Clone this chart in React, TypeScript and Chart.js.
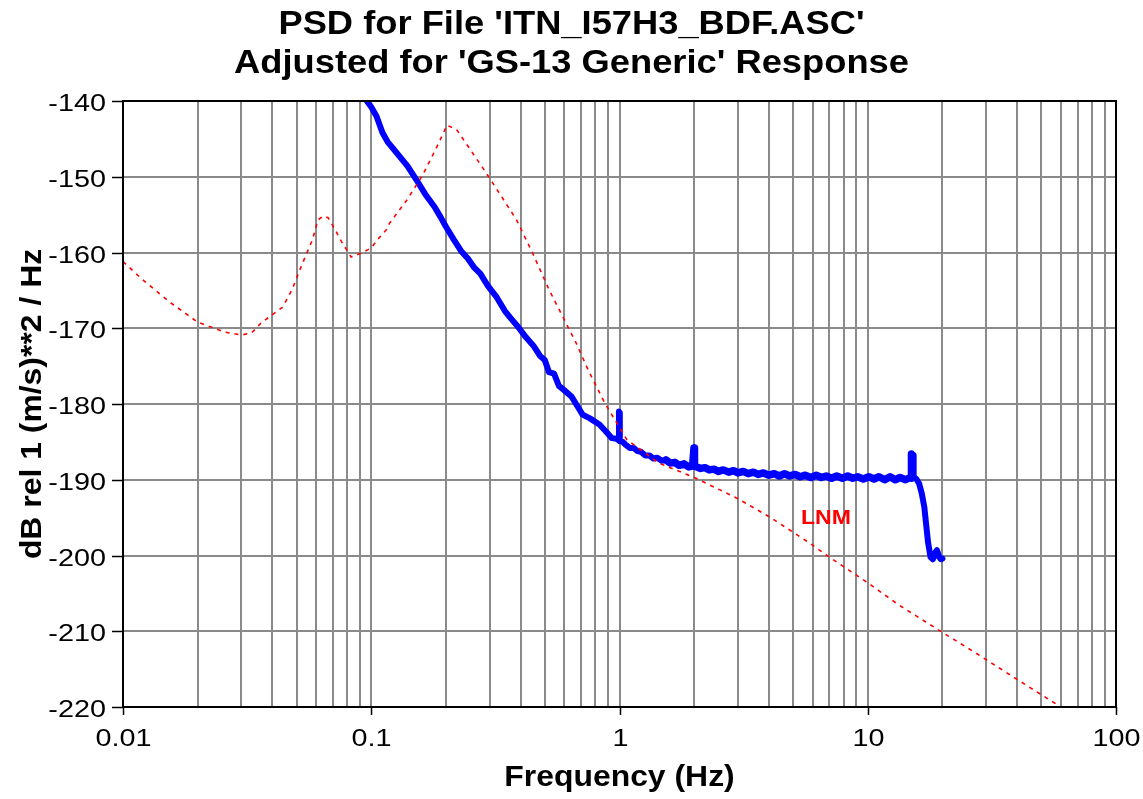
import React, { useEffect, useRef } from "react";
import { Chart, registerables } from "chart.js";

Chart.register(...registerables);

const titleLines = ["PSD for File 'ITN_I57H3_BDF.ASC'", "Adjusted for 'GS-13 Generic' Response"];
const xAxisTitle = "Frequency (Hz)";
const yAxisTitle = "dB rel 1 (m/s)**2 / Hz";
const lnmLabel = "LNM";

const xDecadeValues = [0.01, 0.1, 1, 10, 100];
const xDecadeLabels = ["0.01", "0.1", "1", "10", "100"];
const xGridValues = [
  0.01, 0.02, 0.03, 0.04, 0.05, 0.06, 0.07, 0.08, 0.09,
  0.1, 0.2, 0.3, 0.4, 0.5, 0.6, 0.7, 0.8, 0.9,
  1, 2, 3, 4, 5, 6, 7, 8, 9,
  10, 20, 30, 40, 50, 60, 70, 80, 90, 100,
];
const yTickValues = [-140, -150, -160, -170, -180, -190, -200, -210, -220];
const yTickLabels = ["-140", "-150", "-160", "-170", "-180", "-190", "-200", "-210", "-220"];

// Low noise model (red dotted)
const lnmFreq = [
  0.01, 0.012, 0.0155, 0.02, 0.0257, 0.03, 0.033, 0.036, 0.04, 0.044, 0.048, 0.05, 0.052, 0.054,
  0.058, 0.061, 0.064, 0.067, 0.071, 0.076, 0.083, 0.091, 0.1, 0.106, 0.115, 0.1187, 0.139, 0.161,
  0.1835, 0.202, 0.221, 0.281, 0.3, 0.385, 0.447, 0.52, 0.6, 0.67, 0.75, 0.87, 1.07, 1.44, 2.0,
  2.96, 4.02, 5.8, 7.0, 10.0, 13.3, 19.0, 27.3, 40.6, 60,
];
const lnmDb = [
  -161.2, -163.6, -166.6, -169.2, -170.5, -170.9, -170.6, -169.3, -168.2, -167.2, -164.9, -163.4, -162.0, -160.7,
  -158.3, -155.7, -155.2, -155.4, -156.8, -158.6, -160.6, -160.1, -159.4, -158.3, -157.0, -156.1, -153.1, -149.8,
  -146.1, -143.2, -143.8, -148.8, -150.2, -155.7, -160.1, -164.9, -168.9, -172.0, -175.6, -179.8, -184.7, -187.8, -189.7,
  -192.4, -194.9, -198.3, -200.2, -203.6, -206.5, -209.7, -212.9, -216.5, -220.0,
];

// Measured PSD (blue)
const psdFreq = [
  0.096, 0.1, 0.105, 0.111, 0.117, 0.122, 0.13, 0.14, 0.152, 0.165, 0.18, 0.19, 0.2, 0.215, 0.23,
  0.245, 0.26, 0.275, 0.295, 0.32, 0.345, 0.365, 0.39, 0.42, 0.45, 0.48, 0.5, 0.52, 0.545, 0.57,
  0.6, 0.64, 0.68, 0.71, 0.76, 0.83, 0.88, 0.93, 0.975, 0.993, 0.995, 1.0, 1.003, 1.03, 1.06, 1.1, 1.14,
  1.18, 1.22, 1.27, 1.32, 1.37, 1.42, 1.48, 1.54, 1.6, 1.67, 1.74, 1.82, 1.9, 1.97, 1.995, 2.0, 2.005,
  2.12, 2.21, 2.3, 2.4, 2.5, 2.62, 2.75, 2.88, 3.0, 3.15, 3.3, 3.46, 3.62, 3.8, 4.0, 4.2,
  4.4, 4.62, 4.85, 5.1, 5.35, 5.6, 5.9, 6.2, 6.5, 6.8, 7.15, 7.5, 7.9, 8.3, 8.7, 9.1, 9.6, 10.1,
  10.6, 11.1, 11.7, 12.3, 12.9, 13.5, 14.2, 14.8, 14.95, 15.0, 15.1, 15.2, 15.7, 16.1, 16.5, 16.9,
  17.2, 17.5, 17.9, 18.3, 18.7, 19.0, 19.4, 19.7, 20.0,
];
const psdDb = [
  -140.0, -140.8, -142.0, -144.2, -145.5, -146.2, -147.3, -148.6, -150.4, -152.3, -154.0, -155.3, -156.6, -158.3, -159.8,
  -160.8, -162.0, -162.8, -164.4, -165.9, -167.7, -168.7, -169.8, -171.2, -172.3, -173.7, -174.2, -175.8, -176.0, -177.6,
  -178.2, -179.0, -180.4, -181.4, -181.9, -182.7, -183.6, -184.5, -184.6, -184.8, -181.0, -181.2, -184.9, -185.0, -185.4, -185.8, -185.8,
  -186.2, -186.3, -186.8, -186.8, -187.2, -187.1, -187.5, -187.4, -187.8, -187.7, -188.1, -187.9, -188.3, -188.2, -185.8, -185.8, -188.2,
  -188.5, -188.4, -188.7, -188.6, -188.9, -188.7, -189.0, -188.8, -189.1, -188.9, -189.2, -189.0, -189.3, -189.1, -189.4, -189.2,
  -189.5, -189.2, -189.5, -189.3, -189.6, -189.4, -189.7, -189.4, -189.7, -189.5, -189.8, -189.5, -189.8, -189.5, -189.8, -189.6, -189.9, -189.6,
  -189.9, -189.6, -190.0, -189.6, -190.0, -189.7, -190.0, -189.7, -189.8, -186.6, -186.8, -189.6, -189.9, -190.5, -191.8, -193.6,
  -196.0, -198.3, -200.2, -200.5, -199.6, -199.3, -200.2, -200.5, -200.4,
];

const FONT = "'Liberation Sans', Arial, Helvetica, sans-serif";

function drawStretched(
  ctx: CanvasRenderingContext2D,
  text: string,
  x: number,
  y: number,
  align: CanvasTextAlign,
  sx: number,
  rotate = 0
) {
  ctx.save();
  ctx.translate(x, y);
  if (rotate) ctx.rotate(rotate);
  ctx.scale(sx, 1);
  ctx.textAlign = align;
  ctx.textBaseline = "alphabetic";
  ctx.fillText(text, 0, 0);
  ctx.restore();
}

const decorPlugin = {
  id: "decor",
  afterDraw(chart: any) {
    const ctx: CanvasRenderingContext2D = chart.ctx;
    const { left, right, top, bottom } = chart.chartArea;
    const xs = chart.scales.x;
    const ys = chart.scales.y;
    ctx.save();
    // frame
    ctx.strokeStyle = "#000";
    ctx.lineWidth = 2;
    ctx.strokeRect(left, top, right - left, bottom - top);

    // y ticks + labels
    ctx.fillStyle = "#000";
    ctx.font = `24px ${FONT}`;
    yTickValues.forEach((v, i) => {
      const y = Math.round(ys.getPixelForValue(v)) + 0.5;
      ctx.beginPath();
      ctx.moveTo(left - 11, y);
      ctx.lineTo(left, y);
      ctx.lineWidth = 1.5;
      ctx.stroke();
      drawStretched(ctx, yTickLabels[i], left - 17, y + 9, "right", 1.2);
    });

    // x ticks + labels
    xDecadeValues.forEach((v, i) => {
      const x = Math.round(xs.getPixelForValue(v)) + 0.5;
      ctx.beginPath();
      ctx.moveTo(x, bottom);
      ctx.lineTo(x, bottom + 8);
      ctx.lineWidth = 1.5;
      ctx.stroke();
      drawStretched(ctx, xDecadeLabels[i], x, bottom + 39, "center", 1.2);
    });

    // titles
    ctx.font = `bold 33px ${FONT}`;
    const cx = chart.width / 2;
    drawStretched(ctx, titleLines[0], cx, 34, "center", 1.1);
    drawStretched(ctx, titleLines[1], cx, 73, "center", 1.1);

    ctx.font = `bold 29px ${FONT}`;
    drawStretched(ctx, xAxisTitle, (left + right) / 2, 786, "center", 1.1);
    drawStretched(ctx, yAxisTitle, 41, (top + bottom) / 2, "center", 1.1, -Math.PI / 2);

    // LNM label
    ctx.fillStyle = "#ff0000";
    ctx.font = `bold 21px ${FONT}`;
    drawStretched(ctx, lnmLabel, 801, 524, "left", 1.1);
    ctx.restore();
  },
};

export default function App() {
  const canvasRef = useRef<HTMLCanvasElement | null>(null);

  useEffect(() => {
    if (!canvasRef.current) return;
    const lnmData = lnmFreq.map((f, i) => ({ x: f, y: lnmDb[i] }));
    const psdData = psdFreq.map((f, i) => ({ x: f, y: psdDb[i] }));
    const gridOpts = { color: "#8a8a8a", lineWidth: 2, drawTicks: false };
    const chart = new Chart(canvasRef.current, {
      type: "line",
      data: {
        datasets: [
          {
            label: "LNM",
            data: lnmData,
            borderColor: "#ff0000",
            borderWidth: 1.6,
            borderDash: [4, 5],
            pointRadius: 0,
            tension: 0,
            fill: false,
          },
          {
            label: "PSD",
            data: psdData,
            borderColor: "#0000ff",
            borderWidth: 6,
            borderJoinStyle: "round",
            borderCapStyle: "round",
            segment: {
              borderWidth: (c: any) => (c.p0.parsed.x > 1.5 && c.p1.parsed.x < 15.5 ? 7.5 : 6),
            },
            pointRadius: 0,
            tension: 0,
            fill: false,
          },
        ],
      },
      options: {
        animation: false,
        responsive: true,
        maintainAspectRatio: false,
        devicePixelRatio: 1,
        parsing: false as any,
        layout: { padding: { top: 101, right: 27, bottom: 0, left: 0 } },
        plugins: {
          legend: { display: false },
          title: { display: false },
          tooltip: { enabled: false },
        },
        scales: {
          x: {
            type: "logarithmic",
            min: 0.01,
            max: 100,
            afterBuildTicks: (s: any) => {
              s.ticks = xGridValues.map((v) => ({ value: v }));
            },
            afterFit: (s: any) => {
              s.height = 92;
            },
            ticks: { display: false, autoSkip: false },
            grid: gridOpts,
            border: { display: false },
          },
          y: {
            type: "linear",
            min: -220,
            max: -140,
            afterBuildTicks: (s: any) => {
              s.ticks = yTickValues.map((v) => ({ value: v }));
            },
            afterFit: (s: any) => {
              s.width = 123;
            },
            ticks: { display: false },
            grid: gridOpts,
            border: { display: false },
          },
        },
      },
      plugins: [decorPlugin],
    });
    return () => chart.destroy();
  }, []);

  return (
    <div style={{ position: "absolute", left: 0, top: 0, width: 1143, height: 799, background: "#fff" }}>
      <canvas ref={canvasRef} />
    </div>
  );
}
